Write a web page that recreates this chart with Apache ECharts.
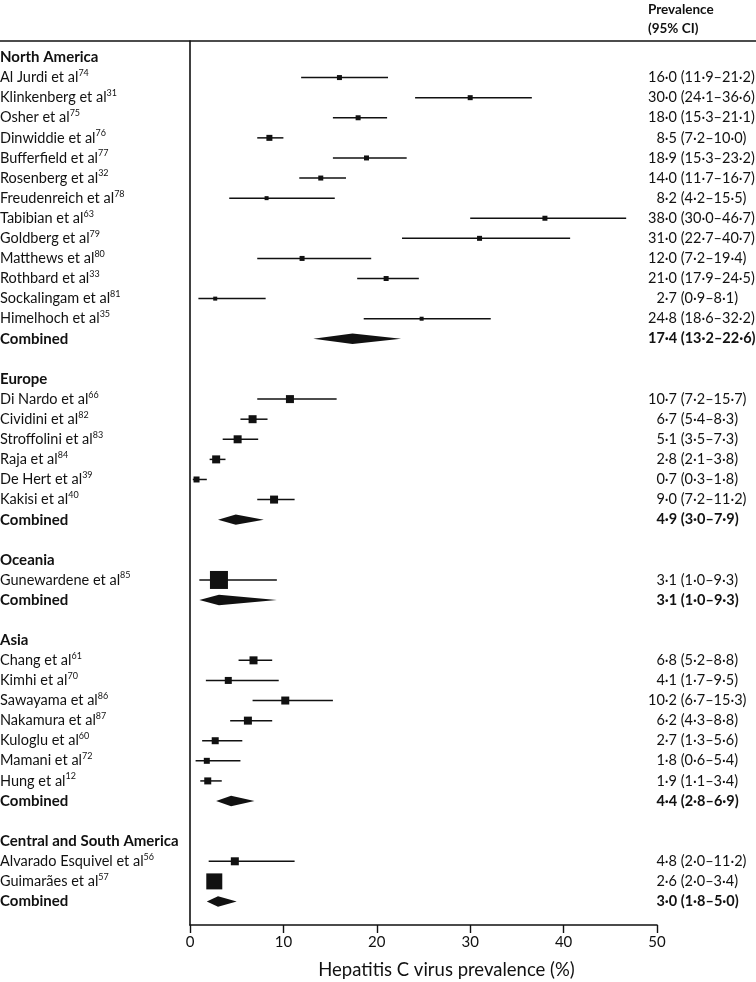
<!DOCTYPE html>
<html>
<head>
<meta charset="utf-8">
<script src="https://cdn.jsdelivr.net/npm/echarts@6/dist/echarts.min.js"></script>
<style>
html,body{margin:0;padding:0;background:#fff;}
#chart{width:756px;height:982px;}
</style>
</head>
<body>
<div id="chart"></div>
<script>
// ---- data ----
const regions = ['North America', 'Europe', 'Oceania', 'Asia', 'Central and South America'];
const studyNames = [
  'Al Jurdi et al', 'Klinkenberg et al', 'Osher et al', 'Dinwiddie et al', 'Bufferfield et al',
  'Rosenberg et al', 'Freudenreich et al', 'Tabibian et al', 'Goldberg et al', 'Matthews et al',
  'Rothbard et al', 'Sockalingam et al', 'Himelhoch et al',
  'Di Nardo et al', 'Cividini et al', 'Stroffolini et al', 'Raja et al', 'De Hert et al', 'Kakisi et al',
  'Gunewardene et al',
  'Chang et al', 'Kimhi et al', 'Sawayama et al', 'Nakamura et al', 'Kuloglu et al', 'Mamani et al', 'Hung et al',
  'Alvarado Esquivel et al', 'Guimarães et al'
];
const studyRefs = ['74','31','75','76','77','32','78','63','79','80','33','81','35',
  '66','82','83','84','39','40',
  '85',
  '61','70','86','87','60','72','12',
  '56','57'];
const studyRegion = [0,0,0,0,0,0,0,0,0,0,0,0,0, 1,1,1,1,1,1, 2, 3,3,3,3,3,3,3, 4,4];
const studyEst = [16.0,30.0,18.0,8.5,18.9,14.0,8.2,38.0,31.0,12.0,21.0,2.7,24.8,
  10.7,6.7,5.1,2.8,0.7,9.0,
  3.1,
  6.8,4.1,10.2,6.2,2.7,1.8,1.9,
  4.8,2.6];
const studyLo = [11.9,24.1,15.3,7.2,15.3,11.7,4.2,30.0,22.7,7.2,17.9,0.9,18.6,
  7.2,5.4,3.5,2.1,0.3,7.2,
  1.0,
  5.2,1.7,6.7,4.3,1.3,0.6,1.1,
  2.0,2.0];
const studyHi = [21.2,36.6,21.1,10.0,23.2,16.7,15.5,46.7,40.7,19.4,24.5,8.1,32.2,
  15.7,8.3,7.3,3.8,1.8,11.2,
  9.3,
  8.8,9.5,15.3,8.8,5.6,5.4,3.4,
  11.2,3.4];
// relative study weight (box size, px)
const studyWeight = [5,5,5,6,5,5,4,5,5,5,5,4,4,
  8,8,8,8,6,8,
  18,
  8,7,8,8,7,6,7,
  8,16];
const combinedEst = [17.4, 4.9, 3.1, 4.4, 3.0];
const combinedLo = [13.2, 3.0, 1.0, 2.8, 1.8];
const combinedHi = [22.6, 7.9, 9.3, 6.9, 5.0];
const xTicks = [0, 10, 20, 30, 40, 50];

// ---- build rows ----
// kind: 0 header, 1 study, 2 combined
const rows = [];
let r = 0;
regions.forEach((reg, gi) => {
  rows.push({row: r++, kind: 0, name: reg});
  studyNames.forEach((n, i) => {
    if (studyRegion[i] === gi) {
      rows.push({row: r++, kind: 1, name: n, ref: studyRefs[i], est: studyEst[i], lo: studyLo[i], hi: studyHi[i], w: studyWeight[i]});
    }
  });
  rows.push({row: r++, kind: 2, name: 'Combined', est: combinedEst[gi], lo: combinedLo[gi], hi: combinedHi[gi], w: 0});
  r++; // blank row
});

function fmt(v) { return v.toFixed(1).replace('.', '·'); }
function ciText(d) {
  const pad = d.est < 10 ? '\u2007' : '';
  return pad + fmt(d.est) + ' (' + fmt(d.lo) + '–' + fmt(d.hi) + ')';
}

const FONT = 'Lato';
const INK = '#111';

const seriesData = rows.map(d => [d.row, d.est == null ? 0 : d.est, d.lo == null ? 0 : d.lo, d.hi == null ? 0 : d.hi, d.w || 0, d.kind]);

const chart = echarts.init(document.getElementById('chart'), null, {renderer: 'canvas'});
chart.setOption({
  animation: false,
  backgroundColor: '#fff',
  grid: {left: 190, right: 99, top: 41, bottom: 57, containLabel: false, outerBoundsMode: 'none'},
  xAxis: {
    type: 'value', min: 0, max: 50, interval: 10, position: 'bottom',
    axisLine: {show: true, onZero: false, lineStyle: {color: INK, width: 1.6}},
    axisTick: {show: true, length: 8, lineStyle: {color: INK, width: 1.4}},
    axisLabel: {color: INK, fontFamily: FONT, fontSize: 15, margin: 10,
      formatter: v => xTicks.indexOf(v) >= 0 ? String(v) : ''},
    splitLine: {show: false},
    name: 'Hepatitis C virus prevalence (%)',
    nameLocation: 'middle', nameGap: 36,
    nameTextStyle: {color: INK, fontFamily: FONT, fontSize: 18.5, padding: [0, 0, 0, 46]}
  },
  yAxis: {
    type: 'value', inverse: true, min: -0.82, max: 43.17,
    axisLine: {show: true, onZero: false, lineStyle: {color: INK, width: 1.6}},
    axisTick: {show: false}, axisLabel: {show: false}, splitLine: {show: false}
  },
  graphic: [
    {type: 'line', shape: {x1: 0, y1: 41, x2: 756, y2: 41}, style: {stroke: INK, lineWidth: 1.6}},
    {type: 'text', left: 648, top: 0, style: {text: 'Prevalence\n(95% CI)', fontFamily: FONT, fontWeight: 'bold', fontSize: 13.5, lineHeight: 19, fill: INK}}
  ],
  series: [{
    type: 'custom',
    clip: false,
    data: seriesData,
    renderItem: function (params, api) {
      const d = rows[params.dataIndex];
      const yc = api.coord([0, d.row])[1];
      const children = [];
      // left label
      if (d.kind === 1) {
        children.push({type: 'text', style: {
          x: 0, y: yc, text: '{n|' + d.name + '}{s|' + d.ref + '}',
          verticalAlign: 'middle', align: 'left',
          rich: {
            n: {fontFamily: FONT, fontSize: 14.5, fill: INK, color: INK, lineHeight: 18},
            s: {fontFamily: FONT, fontSize: 9, fill: INK, color: INK, lineHeight: 18, verticalAlign: 'top', padding: [0, 0, 6, 0]}
          }
        }});
      } else {
        children.push({type: 'text', style: {
          x: 0, y: yc, text: d.name, verticalAlign: 'middle', align: 'left',
          fontFamily: FONT, fontSize: 15, fontWeight: 'bold', fill: INK
        }});
      }
      if (d.kind === 1 || d.kind === 2) {
        const pLo = api.coord([d.lo, d.row]);
        const pHi = api.coord([d.hi, d.row]);
        const pE = api.coord([d.est, d.row]);
        if (d.kind === 1) {
          children.push({type: 'line', shape: {x1: pLo[0], y1: yc, x2: pHi[0], y2: yc}, style: {stroke: INK, lineWidth: 1.5}});
          const s = d.w;
          children.push({type: 'rect', shape: {x: pE[0] - s / 2, y: yc - s / 2, width: s, height: s}, style: {fill: INK}});
        } else {
          const h = 5.2;
          children.push({type: 'polygon', shape: {points: [[pLo[0], yc], [pE[0], yc - h], [pHi[0], yc], [pE[0], yc + h]]}, style: {fill: INK}});
        }
        children.push({type: 'text', style: {
          x: 648, y: yc, text: ciText(d), verticalAlign: 'middle', align: 'left',
          fontFamily: FONT, fontSize: 14.5, fontWeight: d.kind === 2 ? 'bold' : 'normal', fill: INK
        }});
      }
      return {type: 'group', children: children};
    }
  }]
});
</script>
</body>
</html>
